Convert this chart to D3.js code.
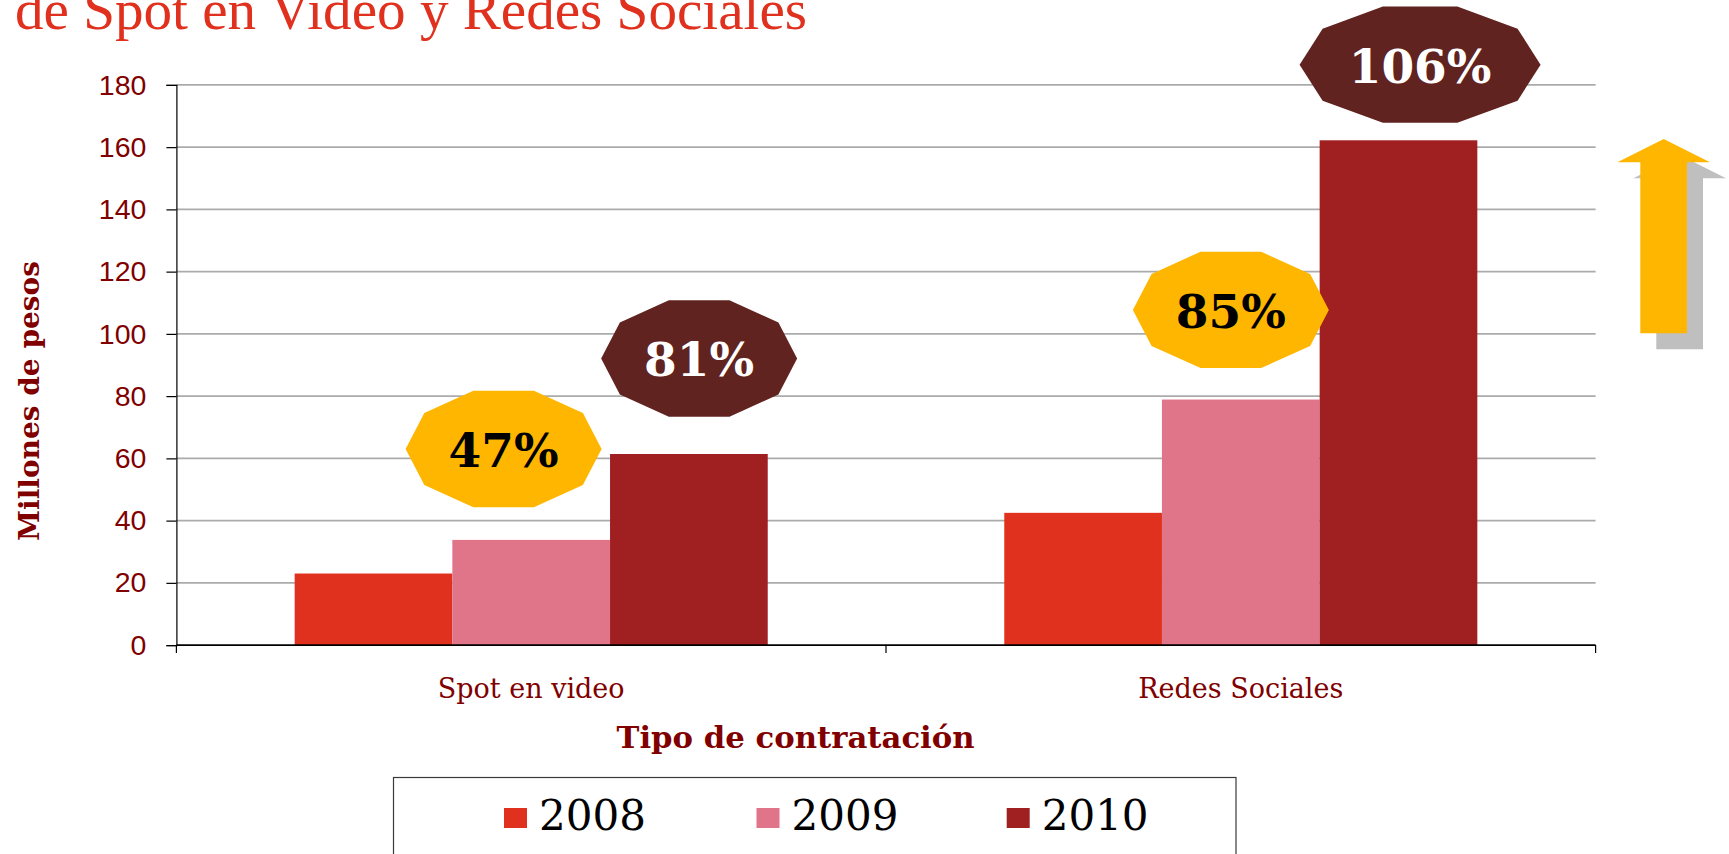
<!DOCTYPE html>
<html>
<head>
<meta charset="utf-8">
<script src="https://cdn.jsdelivr.net/npm/d3@7"></script>
<style>
  html, body { margin: 0; padding: 0; background: #ffffff; overflow: hidden; }
  svg { display: block; }
</style>
</head>
<body>
<script>
// ---- data ----
const categories = ["Spot en video", "Redes Sociales"];
const years = ["2008", "2009", "2010"];
const values2008 = [23.0, 42.5];
const values2009 = [33.8, 78.9];
const values2010 = [61.4, 162.2];
const yTicks = [0, 20, 40, 60, 80, 100, 120, 140, 160, 180];
const yDomain = [0, 180];
const titleText = "de Spot en Video y Redes Sociales";
const yTitle = "Millones de pesos";
const xTitle = "Tipo de contratación";
// growth badges: label, category, anchor year, offset (in bar widths), value level
const badgeLabels = ["47%", "81%", "85%", "106%"];
const badgeCats = ["Spot en video", "Spot en video", "Redes Sociales", "Redes Sociales"];
const badgeYears = ["2009", "2010", "2009", "2010"];
const badgeShift = [-0.175, 0.065, -0.063, 0.137];
const badgeLevel = [63.0, 92.1, 107.7, 186.5];
const badgeKind = ["gold", "dark", "gold", "dark"];

// ---- layout / style ----
const W = 1729, H = 854;
const plot = { left: 176.4, right: 1595.6, top: 84.9, bottom: 645.1 };
const colors = { "2008": "#E0311F", "2009": "#E07488", "2010": "#A01F21" };
const darkRed = "#800000";

const svg = d3.select("body").append("svg").attr("width", W).attr("height", H);

const y = d3.scaleLinear().domain(yDomain).range([plot.bottom, plot.top]);
const x0 = d3.scaleBand().domain(categories).range([plot.left, plot.right])
  .paddingInner(1/3).paddingOuter(1/6);
const x1 = d3.scaleBand().domain(years).range([0, x0.bandwidth()]);

// title (partially cut off at top, as in the reference)
svg.append("text")
  .attr("x", 15).attr("y", 28.5)
  .attr("font-family", "'Liberation Serif', 'Times New Roman', serif")
  .attr("font-size", 56)
  .attr("fill", "#E0301E")
  .attr("textLength", 792).attr("lengthAdjust", "spacingAndGlyphs")
  .text(titleText);

// gridlines
svg.append("g").selectAll("line")
  .data(yTicks.filter(d => d > 0))
  .join("line")
  .attr("x1", plot.left).attr("x2", plot.right)
  .attr("y1", d => y(d)).attr("y2", d => y(d))
  .attr("stroke", "#ABABAB").attr("stroke-width", 1.6);

// bars
const series = [values2008, values2009, values2010];
const barData = [];
categories.forEach((c, i) => {
  years.forEach((yr, j) => barData.push({ cat: c, year: yr, value: series[j][i] }));
});
svg.append("g").selectAll("rect")
  .data(barData)
  .join("rect")
  .attr("x", d => x0(d.cat) + x1(d.year))
  .attr("width", x1.bandwidth())
  .attr("y", d => y(d.value))
  .attr("height", d => y(0) - y(d.value))
  .attr("fill", d => colors[d.year]);

// y axis
const yAxis = d3.axisLeft(y).tickValues(yTicks).tickSize(10).tickPadding(20);
const gy = svg.append("g").attr("transform", `translate(${plot.left},0)`).call(yAxis);
gy.select(".domain").attr("stroke", "#000").attr("stroke-width", 1.2);
gy.selectAll(".tick line").attr("stroke", "#000").attr("stroke-width", 1.2);
gy.selectAll(".tick text")
  .attr("font-family", "'Liberation Sans', Arial, sans-serif")
  .attr("font-size", 28.5)
  .attr("fill", darkRed);

// x axis (category boundaries as ticks)
const gx = svg.append("g");
gx.append("line")
  .attr("x1", plot.left).attr("x2", plot.right)
  .attr("y1", y(0)).attr("y2", y(0))
  .attr("stroke", "#000").attr("stroke-width", 1.6);
const boundaries = [plot.left].concat(categories.map(c => x0(c) + x0.bandwidth() + x0.step() * (1/6)));
gx.selectAll("line.tk")
  .data(boundaries)
  .join("line").attr("class", "tk")
  .attr("x1", d => d).attr("x2", d => d)
  .attr("y1", y(0)).attr("y2", y(0) + 8)
  .attr("stroke", "#000").attr("stroke-width", 1.2);
gx.selectAll("text")
  .data(categories)
  .join("text")
  .attr("x", d => x0(d) + x0.bandwidth() / 2)
  .attr("y", 698)
  .attr("text-anchor", "middle")
  .attr("font-family", "'DejaVu Serif', Georgia, serif")
  .attr("font-size", 27)
  .attr("fill", darkRed)
  .text(d => d);

// axis titles
svg.append("text")
  .attr("transform", `translate(39.3, 401) rotate(-90)`)
  .attr("text-anchor", "middle")
  .attr("font-family", "'DejaVu Serif', Georgia, serif")
  .attr("font-weight", "bold")
  .attr("font-size", 28)
  .attr("fill", darkRed)
  .attr("textLength", 280).attr("lengthAdjust", "spacingAndGlyphs")
  .text(yTitle);

svg.append("text")
  .attr("x", 795.6).attr("y", 748)
  .attr("text-anchor", "middle")
  .attr("font-family", "'DejaVu Serif', Georgia, serif")
  .attr("font-weight", "bold")
  .attr("font-size", 29.5)
  .attr("fill", darkRed)
  .attr("textLength", 358).attr("lengthAdjust", "spacingAndGlyphs")
  .text(xTitle);

// decagon badges
function decagon(cx, cy, rx, hh) {
  const ry = hh / Math.sin(72 * Math.PI / 180);
  const pts = [];
  for (let k = 0; k < 10; k++) {
    const a = k * 36 * Math.PI / 180;
    pts.push([cx + rx * Math.cos(a), cy - ry * Math.sin(a)]);
  }
  return pts.map(p => p.join(",")).join(" ");
}
const badgeFill = { gold: "#FFB600", dark: "#602320" };
const badgeText = { gold: "#000000", dark: "#FFFFFF" };
const badges = badgeLabels.map((l, i) => {
  const cx = x0(badgeCats[i]) + x1(badgeYears[i]) + x1.bandwidth() * (0.5 + badgeShift[i]);
  const cy = y(badgeLevel[i]);
  const rx = l.length > 3 ? 120.5 : 98;
  return { label: l, cx, cy, rx, kind: badgeKind[i] };
});
const gb = svg.append("g").selectAll("g").data(badges).join("g");
gb.append("polygon")
  .attr("points", d => decagon(d.cx, d.cy, d.rx, 58.2))
  .attr("fill", d => badgeFill[d.kind]);
gb.append("text")
  .attr("x", d => d.cx).attr("y", d => d.cy + 18)
  .attr("text-anchor", "middle")
  .attr("font-family", "'DejaVu Serif', Georgia, serif")
  .attr("font-weight", "bold")
  .attr("font-size", 47)
  .attr("fill", d => badgeText[d.kind])
  .text(d => d.label);

// up arrow with shadow
function arrowPts(tipX, tipY) {
  return [
    [tipX, tipY], [tipX + 46.3, tipY + 23.3], [tipX + 23.3, tipY + 23.3],
    [tipX + 23.3, tipY + 194.3], [tipX - 23.4, tipY + 194.3], [tipX - 23.4, tipY + 23.3],
    [tipX - 46.3, tipY + 23.3]
  ].map(p => p.join(",")).join(" ");
}
svg.append("polygon").attr("points", arrowPts(1679.7, 155)).attr("fill", "#BFBFBF");
svg.append("polygon").attr("points", arrowPts(1663.7, 139)).attr("fill", "#FFB600");

// legend
svg.append("rect")
  .attr("x", 393.5).attr("y", 777.5)
  .attr("width", 842.5).attr("height", 120)
  .attr("fill", "#fff").attr("stroke", "#3a3a3a").attr("stroke-width", 1.2);
const legendX = [504, 756.5, 1006.7];
const lg = svg.append("g").selectAll("g").data(years).join("g")
  .attr("transform", (d, i) => `translate(${legendX[i]},0)`);
lg.append("rect").attr("x", 0).attr("y", 808).attr("width", 23).attr("height", 20)
  .attr("fill", d => colors[d]);
lg.append("text").attr("x", 35).attr("y", 830)
  .attr("font-family", "'DejaVu Serif', Georgia, serif")
  .attr("font-size", 42)
  .attr("fill", "#000")
  .text(d => d);
</script>
</body>
</html>
